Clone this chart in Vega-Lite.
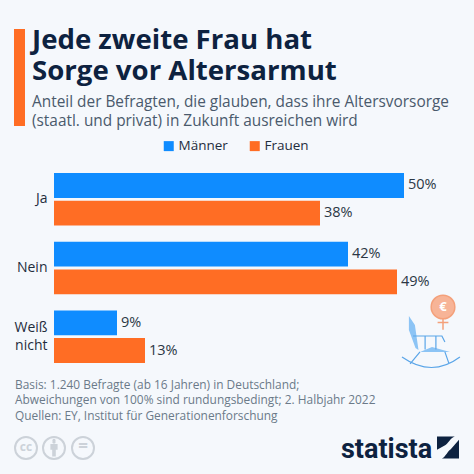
{
  "$schema": "https://vega.github.io/schema/vega-lite/v6.json",
  "autosize": {"type": "none"},
  "padding": {"left": 54, "top": 173, "right": 70, "bottom": 111},
  "width": 350,
  "height": 190,
  "background": "#f5f8fc",
  "config": {
    "font": "Open Sans",
    "view": {"stroke": null},
    "text": {"font": "Open Sans"}
  },
  "layer": [
    {
      "data": {
        "values": [
          {"antwort": "Ja", "gruppe": "Männer", "anteil": 50},
          {"antwort": "Ja", "gruppe": "Frauen", "anteil": 38},
          {"antwort": "Nein", "gruppe": "Männer", "anteil": 42},
          {"antwort": "Nein", "gruppe": "Frauen", "anteil": 49},
          {"antwort": "Weiß nicht", "gruppe": "Männer", "anteil": 9},
          {"antwort": "Weiß nicht", "gruppe": "Frauen", "anteil": 13}
        ]
      },
      "encoding": {
        "y": {
          "field": "antwort",
          "type": "nominal",
          "sort": ["Ja", "Nein", "Weiß nicht"],
          "title": null,
          "scale": {"paddingInner": 0.236, "paddingOuter": 0},
          "axis": {
            "domain": false,
            "ticks": false,
            "labelFontSize": 14,
            "labelColor": "#1f2d3d",
            "labelPadding": 7,
            "labelLineHeight": 18,
            "labelOffset": {"condition": {"test": "datum.label == 'Weiß nicht'", "value": -9}, "value": 0},
            "labelExpr": "split(datum.label, ' ')"
          }
        },
        "yOffset": {
          "field": "gruppe",
          "sort": ["Männer", "Frauen"],
          "scale": {"paddingInner": 0.1, "paddingOuter": 0}
        },
        "x": {
          "field": "anteil",
          "type": "quantitative",
          "title": null,
          "axis": null,
          "scale": {"domain": [0, 50], "nice": false}
        }
      },
      "layer": [
        {
          "mark": {"type": "bar"},
          "encoding": {
            "color": {
              "field": "gruppe",
              "type": "nominal",
              "title": null,
              "sort": ["Männer", "Frauen"],
              "scale": {"domain": ["Männer", "Frauen"], "range": ["#0f8cff", "#ff6d24"]},
              "legend": {
                "orient": "none",
                "direction": "horizontal",
                "legendX": 108,
                "legendY": -34,
                "symbolType": "square",
                "symbolSize": 100,
                "symbolStrokeWidth": 0,
                "symbolOpacity": 1,
                "labelFontSize": 13.5,
                "labelColor": "#1f2d3d",
                "labelOffset": 3,
                "columnPadding": 20
              }
            }
          }
        },
        {
          "mark": {"type": "text", "align": "left", "dx": 4, "fontSize": 14.5, "color": "#2b3744", "clip": false, "text": {"expr": "datum.anteil + '%'"}}
        }
      ]
    },
    {
      "data": {"values": [{"deko": "Rahmen"}]},
      "layer": [
        {
          "mark": {"type": "rect", "color": "#ff6d24"},
          "encoding": {
            "x": {"datum": 14, "type": "quantitative", "axis": null, "title": null, "scale": {"domain": [0, 474], "range": [-54, 420], "nice": false, "zero": false}},
            "x2": {"datum": 25},
            "y": {"datum": 29, "type": "quantitative", "axis": null, "title": null, "scale": {"domain": [0, 474], "range": [-173, 301], "nice": false, "zero": false}},
            "y2": {"datum": 126}
          }
        },
        {
          "mark": {"type": "text", "align": "left", "baseline": "alphabetic", "fontSize": 27.6, "fontWeight": 700, "color": "#0d2240", "text": "Jede zweite Frau hat"},
          "encoding": {"x": {"datum": 32, "type": "quantitative"}, "y": {"datum": 49, "type": "quantitative"}}
        },
        {
          "mark": {"type": "text", "align": "left", "baseline": "alphabetic", "fontSize": 27.6, "fontWeight": 700, "color": "#0d2240", "text": "Sorge vor Altersarmut"},
          "encoding": {"x": {"datum": 32, "type": "quantitative"}, "y": {"datum": 80, "type": "quantitative"}}
        },
        {
          "mark": {"type": "text", "align": "left", "baseline": "alphabetic", "fontSize": 15.4, "color": "#4a5a6c", "lineHeight": 19, "text": ["Anteil der Befragten, die glauben, dass ihre Altersvorsorge", "(staatl. und privat) in Zukunft ausreichen wird"]},
          "encoding": {"x": {"datum": 32, "type": "quantitative"}, "y": {"datum": 107, "type": "quantitative"}}
        },
        {
          "mark": {"type": "text", "align": "left", "baseline": "alphabetic", "fontSize": 11.9, "color": "#6b7a89", "lineHeight": 14.5, "text": ["Basis: 1.240 Befragte (ab 16 Jahren) in Deutschland;", "Abweichungen von 100% sind rundungsbedingt; 2. Halbjahr 2022"]},
          "encoding": {"x": {"datum": 15, "type": "quantitative"}, "y": {"datum": 389, "type": "quantitative"}}
        },
        {
          "mark": {"type": "text", "align": "left", "baseline": "alphabetic", "fontSize": 11.9, "color": "#6b7a89", "text": "Quellen: EY, Institut für Generationenforschung"},
          "encoding": {"x": {"datum": 15, "type": "quantitative"}, "y": {"datum": 420, "type": "quantitative"}}
        },
        {
          "mark": {"type": "text", "align": "left", "baseline": "alphabetic", "font": "Roboto", "fontWeight": 700, "fontSize": 27, "color": "#0d2240", "text": "statista"},
          "encoding": {"x": {"datum": 341, "type": "quantitative"}, "y": {"datum": 458, "type": "quantitative"}}
        },
        {
          "mark": {"type": "point", "filled": true, "opacity": 1, "fill": "#0d2240", "stroke": null, "size": 484, "shape": "M-1,-1 L0.62,-1 C0.2,-0.85 0,-0.35 -0.26,-0.2 L-1,0.2 Z M1,-0.7 L1,1 L-0.55,1 C-0.2,0.8 0,0.3 0.25,0.15 Z"},
          "encoding": {"x": {"datum": 448, "type": "quantitative"}, "y": {"datum": 447.5, "type": "quantitative"}}
        },
        {
          "mark": {"type": "point", "filled": false, "opacity": 1, "stroke": "#ccd2d9", "strokeWidth": 2, "size": 484, "shape": "circle"},
          "encoding": {"x": {"datum": 26, "type": "quantitative"}, "y": {"datum": 448, "type": "quantitative"}}
        },
        {
          "mark": {"type": "point", "filled": false, "opacity": 1, "stroke": "#ccd2d9", "strokeWidth": 2, "size": 484, "shape": "circle"},
          "encoding": {"x": {"datum": 54, "type": "quantitative"}, "y": {"datum": 448, "type": "quantitative"}}
        },
        {
          "mark": {"type": "point", "filled": false, "opacity": 1, "stroke": "#ccd2d9", "strokeWidth": 2, "size": 484, "shape": "circle"},
          "encoding": {"x": {"datum": 83, "type": "quantitative"}, "y": {"datum": 448, "type": "quantitative"}}
        },
        {
          "mark": {"type": "text", "align": "center", "baseline": "middle", "fontWeight": 700, "fontSize": 12, "color": "#ccd2d9", "text": "cc"},
          "encoding": {"x": {"datum": 26, "type": "quantitative"}, "y": {"datum": 447, "type": "quantitative"}}
        },
        {
          "mark": {"type": "text", "align": "center", "baseline": "middle", "fontWeight": 700, "fontSize": 17, "color": "#ccd2d9", "text": "="},
          "encoding": {"x": {"datum": 83, "type": "quantitative"}, "y": {"datum": 447, "type": "quantitative"}}
        },
        {
          "mark": {"type": "point", "filled": true, "opacity": 1, "fill": "#ccd2d9", "stroke": null, "size": 324, "shape": "M-0.15,-0.75 A0.18,0.18 0 1 1 0.15,-0.75 A0.18,0.18 0 1 1 -0.15,-0.75 Z M-0.4,-0.45 L0.4,-0.45 L0.4,0.2 L0.2,0.2 L0.2,0.95 L-0.2,0.95 L-0.2,0.2 L-0.4,0.2 Z"},
          "encoding": {"x": {"datum": 54, "type": "quantitative"}, "y": {"datum": 448, "type": "quantitative"}}
        },
        {
          "mark": {"type": "point", "filled": true, "opacity": 1, "fill": "#8cc4f5", "stroke": null, "size": 3600, "shape": "M-0.77,-0.87 L-0.57,-0.57 L-0.45,0.27 L-0.55,0.2 L-0.77,-0.4 Z M-0.4,0.33 L0,0.17 L0.6,0.33 Z"},
          "encoding": {"x": {"datum": 432, "type": "quantitative"}, "y": {"datum": 342, "type": "quantitative"}}
        },
        {
          "mark": {"type": "point", "filled": false, "opacity": 1, "stroke": "#5aa5e8", "strokeWidth": 1.2, "size": 3600, "shape": "M-1,0.5 Q0,1.2 0.93,0.5 M-0.4,0.33 L-0.73,0.73 M0.43,0.33 L0.57,0.73 M-0.63,-0.2 L0.33,-0.2 L0.43,0 M-0.23,-0.2 L-0.23,0.25 M0.13,-0.2 L0.13,0.25"},
          "encoding": {"x": {"datum": 432, "type": "quantitative"}, "y": {"datum": 342, "type": "quantitative"}}
        },
        {
          "mark": {"type": "point", "filled": false, "opacity": 1, "stroke": "#f4a07a", "strokeWidth": 1.5, "size": 576, "shape": "M0,0.9 L0,1.9 M-0.45,1.3 L0.45,1.3"},
          "encoding": {"x": {"datum": 443, "type": "quantitative"}, "y": {"datum": 307, "type": "quantitative"}}
        },
        {
          "mark": {"type": "point", "filled": true, "opacity": 1, "fill": "#f7b497", "stroke": "#f4a07a", "strokeWidth": 1.5, "size": 560, "shape": "circle"},
          "encoding": {"x": {"datum": 443, "type": "quantitative"}, "y": {"datum": 307, "type": "quantitative"}}
        },
        {
          "mark": {"type": "text", "align": "center", "baseline": "middle", "fontWeight": 700, "fontSize": 13, "color": "#ffffff", "text": "€"},
          "encoding": {"x": {"datum": 443, "type": "quantitative"}, "y": {"datum": 307, "type": "quantitative"}}
        }
      ]
    }
  ],
  "resolve": {"scale": {"x": "independent", "y": "independent"}}
}
